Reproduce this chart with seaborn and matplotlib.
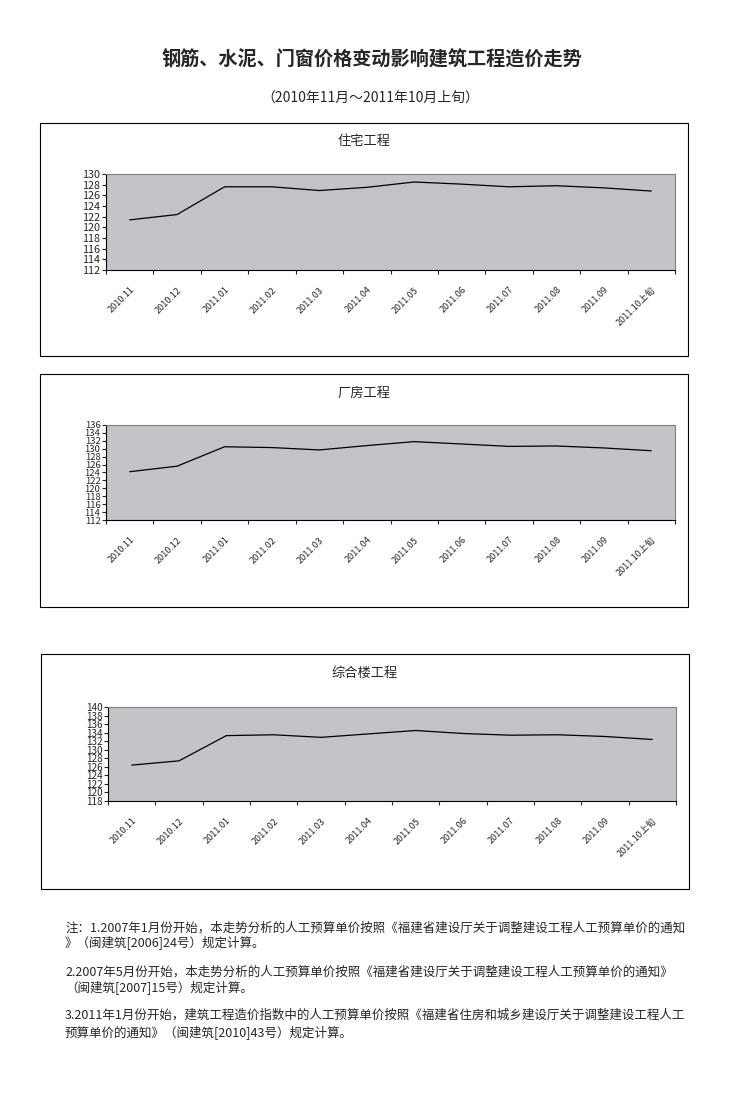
import pandas as pd
import matplotlib.pyplot as plt
import matplotlib.patches as patches
import seaborn as sns

# data
months = ["2010.11", "2010.12", "2011.01", "2011.02", "2011.03", "2011.04",
          "2011.05", "2011.06", "2011.07", "2011.08", "2011.09", "2011.10上旬"]
housing = [121.4, 122.4, 127.6, 127.6, 126.9, 127.5, 128.5, 128.1, 127.6, 127.8, 127.4, 126.8]
factory = [124.2, 125.6, 130.5, 130.3, 129.7, 130.8, 131.8, 131.2, 130.6, 130.7, 130.2, 129.5]
complex_bldg = [126.4, 127.4, 133.3, 133.5, 132.9, 133.7, 134.5, 133.8, 133.4, 133.5, 133.1, 132.4]

titles = ["住宅工程", "厂房工程", "综合楼工程"]
ylims = [(112, 130), (112, 136), (118, 140)]

notes = [
    "注：1.2007年1月份开始，本走势分析的人工预算单价按照《福建省建设厅关于调整建设工程人工预算单价的通知",
    "》（闽建筑[2006]24号）规定计算。",
    "2.2007年5月份开始，本走势分析的人工预算单价按照《福建省建设厅关于调整建设工程人工预算单价的通知》",
    "（闽建筑[2007]15号）规定计算。",
    "3.2011年1月份开始，建筑工程造价指数中的人工预算单价按照《福建省住房和城乡建设厅关于调整建设工程人工",
    "预算单价的通知》（闽建筑[2010]43号）规定计算。",
]

sns.set_style("white")
plt.rcParams['font.family'] = ['Noto Sans CJK SC', 'DejaVu Sans']

W, H = 737, 1105
fig = plt.figure(figsize=(W / 100, H / 100), dpi=100)

def fx(px):
    return px / W

def fy(py):
    return 1 - py / H

fig.text(fx(372), fy(60), "钢筋、水泥、门窗价格变动影响建筑工程造价走势",
         ha="center", va="center", fontsize=13.8, fontweight="bold")
fig.text(fx(370), fy(98), "（2010年11月～2011年10月上旬）",
         ha="center", va="center", fontsize=10)

# panel boxes (x0, y0, x1, y1) and plot areas in pixels
boxes = [(40, 123, 688, 356), (40, 374, 688, 607), (41, 654, 689, 889)]
areas = [(106, 174, 675, 270), (106, 425, 675, 520), (108, 707, 676, 801)]
title_y = [142, 393, 674]
ysizes = [7.8, 6.8, 7.2]
series = [housing, factory, complex_bldg]

for i in range(3):
    x0, y0, x1, y1 = boxes[i]
    fig.patches.append(patches.Rectangle((fx(x0), fy(y1)), fx(x1 - x0), (y1 - y0) / H,
                                         transform=fig.transFigure, fill=False,
                                         edgecolor="black", linewidth=0.8))
    fig.text(fx((x0 + x1) / 2), fy(title_y[i]), titles[i], ha="center", va="center", fontsize=9.5)

    a0, b0, a1, b1 = areas[i]
    ax = fig.add_axes([fx(a0), fy(b1), fx(a1 - a0), (b1 - b0) / H])
    df = pd.DataFrame({"month": months, "value": series[i]})
    sns.lineplot(data=df, x="month", y="value", ax=ax, color="black", linewidth=0.9)
    ax.set_facecolor("#c4c3c8")
    ax.set_xlim(-0.5, len(months) - 0.5)
    ax.set_ylim(*ylims[i])
    ax.set_yticks(range(ylims[i][0], ylims[i][1] + 1, 2))
    ax.tick_params(axis="y", labelsize=ysizes[i], length=3, width=0.8, pad=1, left=True)
    ax.set_xticks([k - 0.5 for k in range(len(months) + 1)])
    ax.set_xticklabels([])
    ax.set_xticks(range(len(months)), minor=True)
    ax.set_xticklabels(months, minor=True, rotation=45, ha="right",
                       rotation_mode="anchor", fontsize=6.5)
    ax.tick_params(axis="x", which="major", length=3, width=0.8, bottom=True)
    ax.tick_params(axis="x", which="minor", length=0, pad=11)
    ax.set_xlabel("")
    ax.set_ylabel("")
    for s in ["top", "right"]:
        ax.spines[s].set_color("#808080")
        ax.spines[s].set_linewidth(0.8)
    for s in ["left", "bottom"]:
        ax.spines[s].set_color("black")
        ax.spines[s].set_linewidth(0.8)

note_y = [928, 942, 972, 987, 1015, 1032]
for t, y in zip(notes, note_y):
    fig.text(fx(65), fy(y), t, ha="left", va="center", fontsize=9)

fig.savefig("out.png", dpi=100)
